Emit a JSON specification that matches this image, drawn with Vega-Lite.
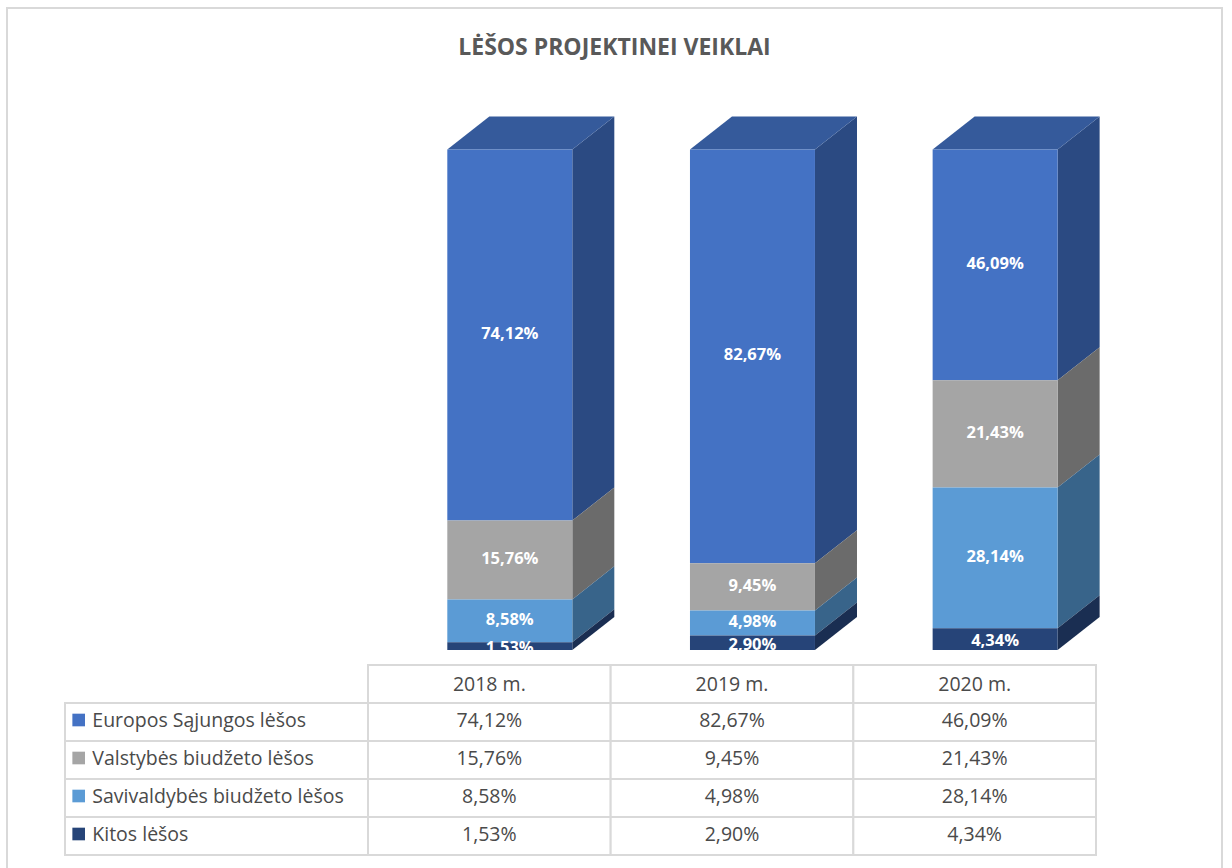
{
  "$schema": "https://vega.github.io/schema/vega-lite/v6.json",
  "width": 1215,
  "height": 870,
  "autosize": {"type": "none"},
  "padding": {"left": 7, "top": 8, "right": 10, "bottom": 0},
  "background": "white",
  "config": {
    "view": {"stroke": "#D9D9D9", "strokeWidth": 2},
    "font": "Open Sans",
    "locale": {"number": {"decimal": ",", "thousands": " ", "grouping": [3], "currency": ["", " €"]}}
  },
  "title": {
    "text": "LĖŠOS PROJEKTINEI VEIKLAI",
    "anchor": "middle",
    "frame": "group",
    "offset": -52,
    "fontSize": 23,
    "font": "Open Sans",
    "fontWeight": "bold",
    "color": "#595959"
  },
  "data": {
    "values": [
      {"year": "2018 m.", "source": "Europos Sąjungos lėšos", "share": 0.7412},
      {"year": "2018 m.", "source": "Valstybės biudžeto lėšos", "share": 0.1576},
      {"year": "2018 m.", "source": "Savivaldybės biudžeto lėšos", "share": 0.0858},
      {"year": "2018 m.", "source": "Kitos lėšos", "share": 0.0153},
      {"year": "2019 m.", "source": "Europos Sąjungos lėšos", "share": 0.8267},
      {"year": "2019 m.", "source": "Valstybės biudžeto lėšos", "share": 0.0945},
      {"year": "2019 m.", "source": "Savivaldybės biudžeto lėšos", "share": 0.0498},
      {"year": "2019 m.", "source": "Kitos lėšos", "share": 0.029},
      {"year": "2020 m.", "source": "Europos Sąjungos lėšos", "share": 0.4609},
      {"year": "2020 m.", "source": "Valstybės biudžeto lėšos", "share": 0.2143},
      {"year": "2020 m.", "source": "Savivaldybės biudžeto lėšos", "share": 0.2814},
      {"year": "2020 m.", "source": "Kitos lėšos", "share": 0.0434}
    ]
  },
  "transform": [
    {"calculate": "indexof(['2018 m.','2019 m.','2020 m.'], datum.year)", "as": "col"},
    {"calculate": "indexof(['Kitos lėšos','Savivaldybės biudžeto lėšos','Valstybės biudžeto lėšos','Europos Sąjungos lėšos'], datum.source)", "as": "rank"}
  ],
  "resolve": {"scale": {"y": "independent"}},
  "layer": [
    {
      "transform": [
        {"stack": "share", "groupby": ["year"], "sort": [{"field": "rank", "order": "ascending"}], "as": ["y0", "y1"]}
      ],
      "layer": [
        {
          "transform": [
            {"calculate": "datum.col + 0.8419", "as": "front"},
            {"calculate": "datum.col + 1.015", "as": "back"},
            {"fold": ["front", "back"], "as": ["edge", "ex"]},
            {"calculate": "datum.edge == 'back' ? 0.066 : 0", "as": "lift"},
            {"calculate": "datum.y0 + datum.lift", "as": "lo"},
            {"calculate": "datum.y1 + datum.lift", "as": "hi"}
          ],
          "mark": {"type": "area", "interpolate": "linear"},
          "encoding": {
            "x": {"field": "ex", "type": "quantitative", "scale": {"domain": [0, 3], "range": [361, 1089], "nice": false, "zero": false}, "axis": null},
            "y": {"field": "lo", "type": "quantitative", "stack": null, "scale": {"domain": [0, 1], "range": [642, 141.5], "nice": false, "zero": false}, "axis": null},
            "y2": {"field": "hi"},
            "detail": [{"field": "year"}, {"field": "source"}],
            "fill": {"field": "source", "type": "nominal", "legend": null,
              "scale": {"domain": ["Europos Sąjungos lėšos", "Valstybės biudžeto lėšos", "Savivaldybės biudžeto lėšos", "Kitos lėšos"],
                        "range": ["#2B4A82", "#6B6B6B", "#38648A", "#1A2E52"]}}
          }
        },
        {
          "transform": [
            {"filter": "datum.rank == 3"},
            {"calculate": "datum.y1", "as": "front"},
            {"calculate": "datum.y1 + 0.066", "as": "back"},
            {"fold": ["front", "back"], "as": ["edge", "ty"]},
            {"calculate": "datum.col + 0.3268 + (datum.edge == 'back' ? 0.1731 : 0)", "as": "tl"},
            {"calculate": "datum.col + 0.8419 + (datum.edge == 'back' ? 0.1731 : 0)", "as": "tr"}
          ],
          "mark": {"type": "area", "orient": "horizontal", "interpolate": "linear", "color": "#355A9B"},
          "encoding": {
            "y": {"field": "ty", "type": "quantitative", "axis": null},
            "x": {"field": "tl", "type": "quantitative", "stack": null, "axis": null},
            "x2": {"field": "tr"},
            "detail": {"field": "year"}
          }
        },
        {
          "transform": [
            {"calculate": "datum.col + 0.3268", "as": "xl"},
            {"calculate": "datum.col + 0.8419", "as": "xr"}
          ],
          "mark": {"type": "rect"},
          "encoding": {
            "x": {"field": "xl", "type": "quantitative", "axis": null},
            "x2": {"field": "xr"},
            "y": {"field": "y0", "type": "quantitative", "axis": null},
            "y2": {"field": "y1"},
            "color": {"field": "source", "type": "nominal", "legend": null,
              "scale": {"domain": ["Europos Sąjungos lėšos", "Valstybės biudžeto lėšos", "Savivaldybės biudžeto lėšos", "Kitos lėšos"],
                        "range": ["#4472C4", "#A5A5A5", "#5B9BD5", "#264478"]}}
          }
        },
        {
          "transform": [
            {"filter": "datum.rank != 0"},
            {"calculate": "datum.col + 0.5843", "as": "xm"},
            {"calculate": "(datum.y0 + datum.y1) / 2", "as": "ym"}
          ],
          "mark": {"type": "text", "color": "white", "fontWeight": "bold", "fontSize": 16.5, "font": "Open Sans", "baseline": "middle", "align": "center", "dy": -1},
          "encoding": {
            "x": {"field": "xm", "type": "quantitative", "axis": null},
            "y": {"field": "ym", "type": "quantitative", "axis": null},
            "text": {"field": "share", "type": "quantitative", "format": ".2%"}
          }
        },
        {
          "transform": [
            {"filter": "datum.rank == 0"},
            {"calculate": "datum.col + 0.5843", "as": "xm"},
            {"calculate": "(datum.y0 + datum.y1) / 2", "as": "ym"}
          ],
          "mark": {"type": "text", "color": "white", "fontWeight": "bold", "fontSize": 16.5, "font": "Open Sans", "baseline": "middle", "align": "center", "dy": 2},
          "encoding": {
            "x": {"field": "xm", "type": "quantitative", "axis": null},
            "y": {"field": "ym", "type": "quantitative", "axis": null},
            "text": {"field": "share", "type": "quantitative", "format": ".2%"}
          }
        }
      ]
    },
    {
      "transform": [
        {"calculate": "datum.col + 1", "as": "col1"},
        {"calculate": "datum.col + 0.5", "as": "cmid"}
      ],
      "layer": [
        {
          "transform": [{"filter": "datum.col == 0"}],
          "mark": {"type": "rect", "fill": "white", "stroke": "#D9D9D9", "strokeWidth": 2},
          "encoding": {
            "x": {"datum": -1.2486, "type": "quantitative", "axis": null},
            "x2": {"datum": 0},
            "y": {"field": "source", "type": "nominal", "axis": null,
              "scale": {"domain": ["hdr", "Europos Sąjungos lėšos", "Valstybės biudžeto lėšos", "Savivaldybės biudžeto lėšos", "Kitos lėšos"],
                        "range": [657, 847], "paddingInner": 0, "paddingOuter": 0}}
          }
        },
        {
          "mark": {"type": "rect", "fill": "white", "stroke": "#D9D9D9", "strokeWidth": 2},
          "encoding": {
            "x": {"field": "col", "type": "quantitative", "axis": null},
            "x2": {"field": "col1"},
            "y": {"field": "source", "type": "nominal", "axis": null}
          }
        },
        {
          "transform": [{"filter": "datum.rank == 3"}],
          "mark": {"type": "rect", "fill": "white", "stroke": "#D9D9D9", "strokeWidth": 2},
          "encoding": {
            "x": {"field": "col", "type": "quantitative", "axis": null},
            "x2": {"field": "col1"},
            "y": {"datum": "hdr", "type": "nominal", "axis": null}
          }
        },
        {
          "transform": [{"filter": "datum.rank == 3"}],
          "mark": {"type": "text", "fontSize": 19.5, "font": "Open Sans", "color": "#4A4A4A", "baseline": "middle", "align": "center", "dy": 1},
          "encoding": {
            "x": {"field": "cmid", "type": "quantitative", "axis": null},
            "y": {"datum": "hdr", "type": "nominal", "axis": null},
            "text": {"field": "year", "type": "nominal"}
          }
        },
        {
          "mark": {"type": "text", "fontSize": 19.5, "font": "Open Sans", "color": "#4A4A4A", "baseline": "middle", "align": "center", "dy": -1},
          "encoding": {
            "x": {"field": "cmid", "type": "quantitative", "axis": null},
            "y": {"field": "source", "type": "nominal", "axis": null},
            "text": {"field": "share", "type": "quantitative", "format": ".2%"}
          }
        },
        {
          "transform": [{"filter": "datum.col == 0"}],
          "mark": {"type": "text", "fontSize": 19.5, "font": "Open Sans", "color": "#4A4A4A", "baseline": "middle", "align": "left", "dy": -1},
          "encoding": {
            "x": {"datum": -1.1361, "type": "quantitative", "axis": null},
            "y": {"field": "source", "type": "nominal", "axis": null},
            "text": {"field": "source", "type": "nominal"}
          }
        },
        {
          "transform": [{"filter": "datum.col == 0"}],
          "mark": {"type": "point", "shape": "square", "filled": true, "size": 160, "opacity": 1, "yOffset": -2},
          "encoding": {
            "x": {"datum": -1.1922, "type": "quantitative", "axis": null},
            "y": {"field": "source", "type": "nominal", "axis": null},
            "color": {"field": "source", "type": "nominal", "legend": null}
          }
        }
      ]
    }
  ]
}
